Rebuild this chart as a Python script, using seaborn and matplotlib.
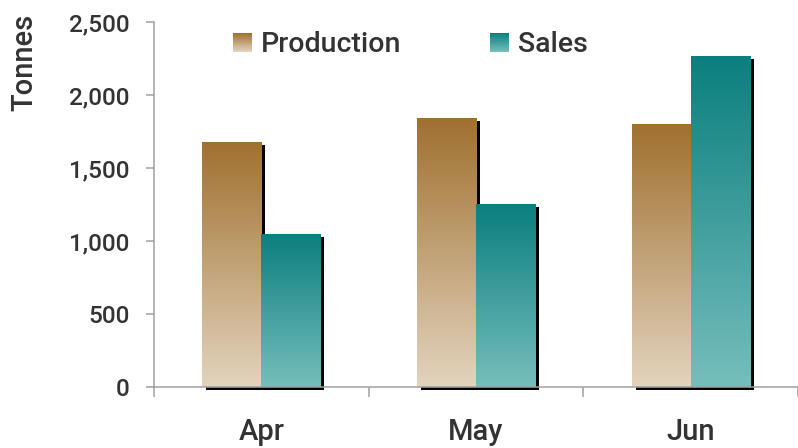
import numpy as np
import pandas as pd
import matplotlib
matplotlib.use("Agg")
import matplotlib.pyplot as plt
import matplotlib.transforms as mtransforms
from matplotlib.patches import Rectangle
from matplotlib.legend_handler import HandlerBase
from matplotlib.colors import to_rgb
from matplotlib.ticker import FuncFormatter
import seaborn as sns

# ---- data ----
months = ["Apr", "May", "Jun"]
production = [1680, 1840, 1800]
sales = [1050, 1250, 2270]
series_names = ["Production", "Sales"]
y_ticks = [0, 500, 1000, 1500, 2000, 2500]
y_label = "Tonnes"

# gradient colours (top, bottom)
grad = {
    "Production": ("#A0702F", "#E3D4BE"),
    "Sales": ("#0A7F7E", "#76BEBC"),
}

df = pd.DataFrame({
    "month": months * 2,
    "series": [series_names[0]] * 3 + [series_names[1]] * 3,
    "value": production + sales,
})

sns.set_theme(style="white")
plt.rcParams["font.family"] = ["Roboto", "DejaVu Sans"]
text_color = "#333333"
axis_color = "#A0A0A0"

DPI = 100
fig = plt.figure(figsize=(7.98, 4.48), dpi=DPI)
ax = fig.add_axes([154 / 798, 1 - 387 / 448, 1 - 154 / 798, (387 - 22) / 448])

sns.barplot(data=df, x="month", y="value", hue="series", order=months,
            hue_order=series_names, width=0.55, palette=[grad[s][0] for s in series_names],
            legend=False, ax=ax, saturation=1)

ax.set_xlim(-0.5, 2.5)
ax.set_ylim(0, 2500)


def make_grad(top, bottom, n=256):
    t = np.linspace(0, 1, n)[:, None]
    c1 = np.array(to_rgb(top))
    c0 = np.array(to_rgb(bottom))
    img = c1[None, None, :] * (1 - t[..., None]) + c0[None, None, :] * t[..., None]
    return img  # row 0 = top


shadow_off = mtransforms.ScaledTranslation(4 / DPI, -3 / DPI, fig.dpi_scale_trans)
for cont, name in zip(ax.containers, series_names):
    top, bottom = grad[name]
    img = make_grad(top, bottom)
    for bar in cont:
        x0, y0 = bar.get_x(), bar.get_y()
        w, h = bar.get_width(), bar.get_height()
        sh = Rectangle((x0, y0), w, h, facecolor="black", edgecolor="none",
                       transform=ax.transData + shadow_off, zorder=1, clip_on=False)
        ax.add_patch(sh)
        im = ax.imshow(img, extent=(x0, x0 + w, y0, y0 + h), origin="upper",
                       aspect="auto", zorder=2, interpolation="bilinear")
        im.set_clip_path(bar)
        bar.set_facecolor("none")
        bar.set_edgecolor("none")

ax.set_xlim(-0.5, 2.5)
ax.set_ylim(0, 2500)

# axes styling
for s in ["top", "right"]:
    ax.spines[s].set_visible(False)
for s in ["left", "bottom"]:
    ax.spines[s].set_color(axis_color)
    ax.spines[s].set_linewidth(1.1)
    ax.spines[s].set_zorder(3)

ax.set_yticks(y_ticks)
ax.yaxis.set_major_formatter(FuncFormatter(lambda v, p: f"{int(v):,}"))
ax.tick_params(axis="y", which="major", length=6, width=1.1, color=axis_color,
               pad=11.5, labelsize=17.5, labelcolor=text_color, left=True, direction="out")
ax.set_xticks(range(len(months)))
ax.set_xticklabels(months)
ax.set_xticks([-0.5, 0.5, 1.5, 2.5], minor=True)
ax.tick_params(axis="x", which="major", length=0, pad=22, labelsize=21, labelcolor=text_color)
ax.tick_params(axis="x", which="minor", length=7, width=1.1, color=axis_color,
               bottom=True, direction="out")
for lab in ax.get_xticklabels() + ax.get_yticklabels():
    lab.set_fontweight("medium")
ax.set_xlabel("")
ax.set_ylabel("")

fig.text(24 / 798, 1 - 62 / 448, y_label, rotation=90, ha="center", va="center",
         fontsize=21, color=text_color, fontweight="medium")


class GradientHandler(HandlerBase):
    def __init__(self, top, bottom, n=30):
        super().__init__()
        self.top, self.bottom, self.n = top, bottom, n

    def create_artists(self, legend, orig_handle, xdescent, ydescent, width, height, fontsize, trans):
        arts = []
        c1 = np.array(to_rgb(self.top))
        c0 = np.array(to_rgb(self.bottom))
        for i in range(self.n):
            t = i / (self.n - 1)
            col = c0 * (1 - t) + c1 * t  # i=0 bottom
            r = Rectangle((-xdescent, -ydescent + height * i / self.n), width,
                          height / self.n * 1.05, facecolor=col, edgecolor="none",
                          transform=trans)
            arts.append(r)
        return arts


handles = [Rectangle((0, 0), 1, 1) for _ in series_names]
hmap = {h: GradientHandler(*grad[n]) for h, n in zip(handles, series_names)}
leg = fig.legend(handles, series_names, handler_map=hmap, ncol=2, frameon=False,
                 loc="center left", bbox_to_anchor=(233 / 798, 1 - 45 / 448),
                 borderpad=0, borderaxespad=0, handlelength=0.66, handleheight=0.66,
                 handletextpad=0.33, columnspacing=3.1,
                 prop={"size": 20.5, "weight": "medium"})
for t in leg.get_texts():
    t.set_color(text_color)

fig.savefig("out.png", dpi=DPI)
